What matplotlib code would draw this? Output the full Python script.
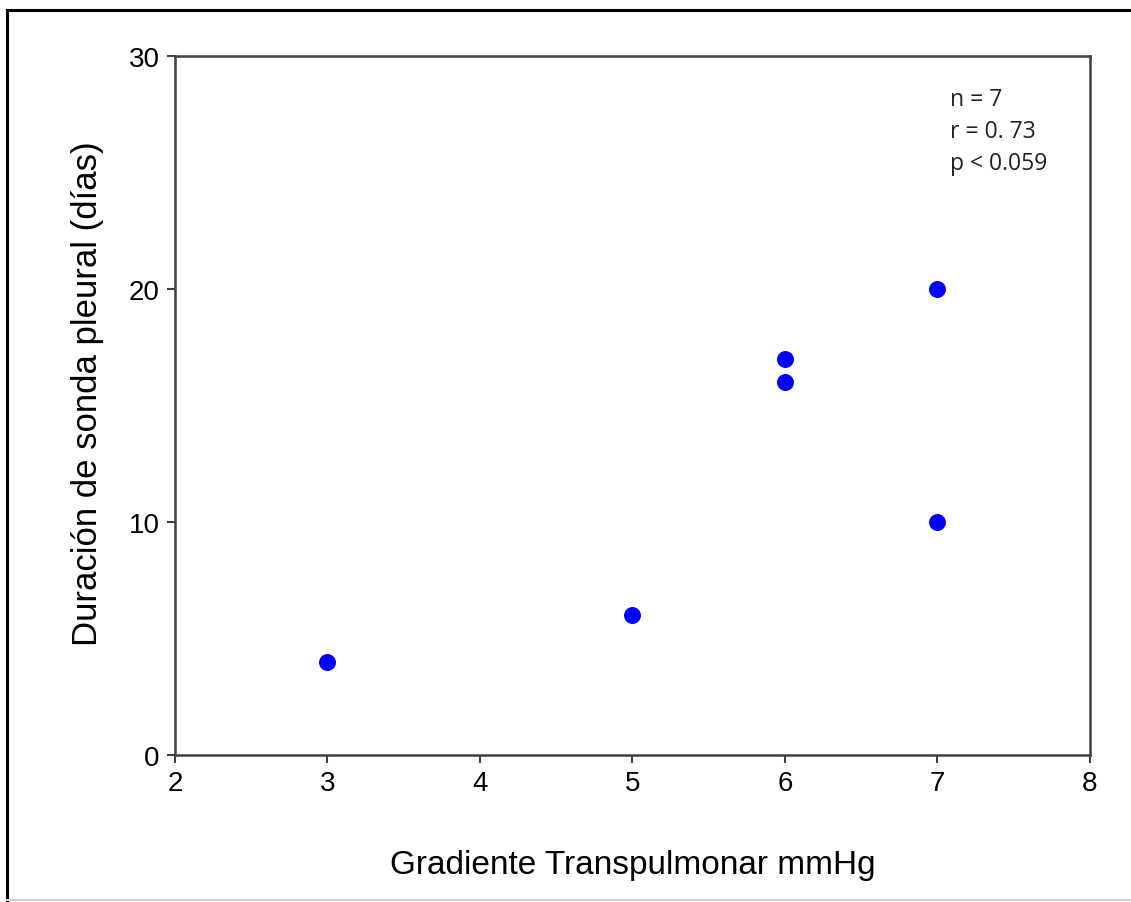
import matplotlib
matplotlib.use("Agg")
import matplotlib.pyplot as plt
from matplotlib.lines import Line2D

# Data
gradiente = [3, 5, 6, 6, 7, 7]
duracion = [4, 6, 16, 17, 10, 20]
x_ticks = [2, 3, 4, 5, 6, 7, 8]
y_ticks = [0, 10, 20, 30]
stats_lines = ["n = 7", "r = 0. 73", "p < 0.059"]

plt.rcParams['font.family'] = ['Liberation Sans', 'DejaVu Sans']

fig = plt.figure(figsize=(11.31, 9.03), dpi=100)
ax = fig.add_axes([0.1547, 0.1628, 0.809, 0.774])

ax.scatter(gradiente, duracion, s=125, color="#0000ff", zorder=3)

ax.set_xlim(2, 8)
ax.set_ylim(0, 30)
ax.set_xticks(x_ticks)
ax.set_yticks(y_ticks)
ax.tick_params(direction="out", length=6, width=1.5, color="#404040",
               labelsize=20, pad=5)

for sp in ax.spines.values():
    sp.set_color("#404040")
    sp.set_linewidth(1.8)

ax.set_xlabel("Gradiente Transpulmonar mmHg", fontsize=24, labelpad=38)
ax.set_ylabel("Duración de sonda pleural (días)", fontsize=25, labelpad=18, y=0.518)

# stats text
for i, t in enumerate(stats_lines):
    fig.text(950 / 1131, 1 - (100 + i * 32) / 903, t, fontsize=16.5, color="#222222",
             family=['Open Sans', 'DejaVu Sans'], va="center", ha="left")

# outer frame of the picture
fig.add_artist(Line2D([7 / 1131, 7 / 1131], [1 - 11 / 903, 1 - 901 / 903],
                      transform=fig.transFigure, color="black", lw=2.2))
fig.add_artist(Line2D([7 / 1131, 1.0], [1 - 11 / 903, 1 - 11 / 903],
                      transform=fig.transFigure, color="black", lw=2.2))
fig.add_artist(Line2D([7 / 1131, 1.0], [1 - 901 / 903, 1 - 901 / 903],
                      transform=fig.transFigure, color="#d0d0d0", lw=1.5))

fig.savefig("out.png", dpi=100)
